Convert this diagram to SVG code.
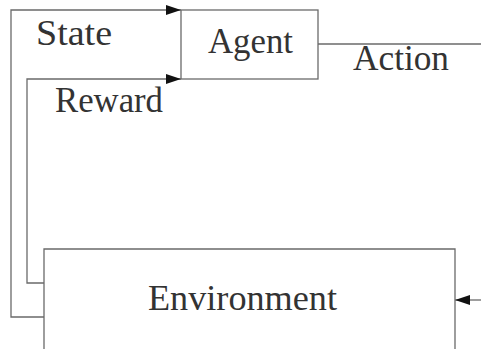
<svg xmlns="http://www.w3.org/2000/svg" width="481" height="349" viewBox="0 0 481 349">
<style>
.ln{fill:none;stroke:#6a6a6a;stroke-width:1.3}
.box{fill:#fff;stroke:#6a6a6a;stroke-width:1.3}
text{font-family:"Liberation Serif","Times New Roman",serif;font-size:35px;fill:#333}
</style>
<defs>
<marker id="ah" markerWidth="15" markerHeight="10" refX="15" refY="5" orient="auto" markerUnits="userSpaceOnUse">
<path d="M0,0 L15,5 L0,10 Z" fill="#111"/>
</marker>
</defs>
<rect width="481" height="349" fill="#fff"/>
<g id="connectors">
<path class="ln" d="M44,317 H11 V10 H181" marker-end="url(#ah)"/>
<path class="ln" d="M44,283 H27 V79 H181" marker-end="url(#ah)"/>
<path class="ln" d="M318,44 H481"/>
<path class="ln" d="M481,300 H455" marker-end="url(#ah)"/>
<text x="36" y="45" textLength="76" lengthAdjust="spacingAndGlyphs">State</text>
<text x="55" y="112" textLength="108" lengthAdjust="spacingAndGlyphs">Reward</text>
<text x="353" y="70" textLength="96" lengthAdjust="spacingAndGlyphs">Action</text>
</g>
<g id="agent">
<rect class="box" x="181" y="10" width="137" height="69"/>
<text x="208" y="53" textLength="85" lengthAdjust="spacingAndGlyphs">Agent</text>
</g>
<g id="environment">
<path class="box" d="M44,352 V249 H455 V352"/>
<text x="148" y="310" textLength="189" lengthAdjust="spacingAndGlyphs">Environment</text>
</g>
</svg>
